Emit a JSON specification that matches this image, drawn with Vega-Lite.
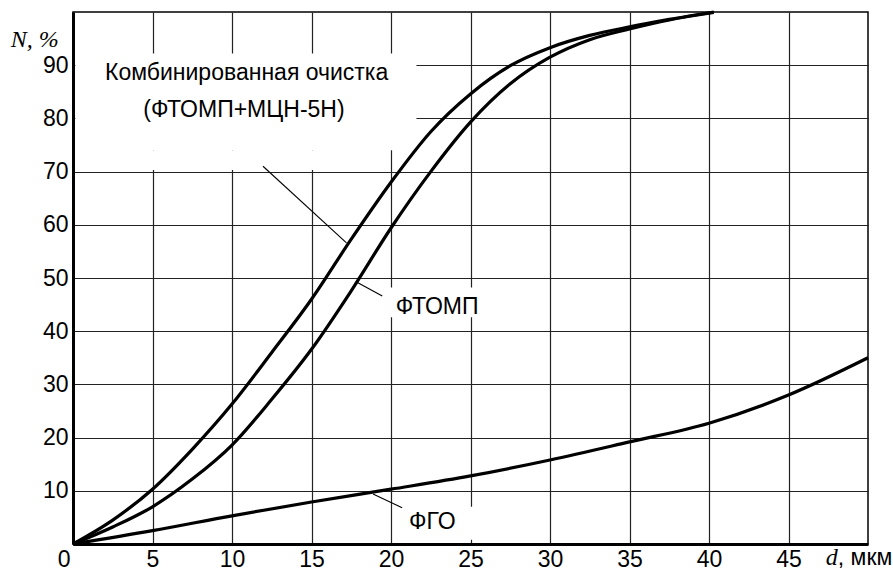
{
  "$schema": "https://vega.github.io/schema/vega-lite/v6.json",
  "width": 795,
  "height": 532,
  "autosize": {"type": "none"},
  "padding": {"left": 73, "top": 12, "right": 25, "bottom": 29},
  "background": "white",
  "config": {
    "view": {"stroke": "black", "strokeWidth": 1.5},
    "font": "Liberation Sans",
    "axis": {
      "grid": true,
      "gridColor": "#222",
      "gridWidth": 1.2,
      "gridOpacity": 1,
      "domainColor": "black",
      "domainWidth": 3,
      "ticks": false,
      "labelFont": "Liberation Sans",
      "labelFontSize": 23,
      "labelColor": "black",
      "title": null
    }
  },
  "datasets": {
    "curves": [
      {"s": "combined", "d": 0, "n": 0},
      {"s": "combined", "d": 2.5, "n": 4.5},
      {"s": "combined", "d": 5, "n": 10.3},
      {"s": "combined", "d": 7.5, "n": 17.8},
      {"s": "combined", "d": 10, "n": 26.3},
      {"s": "combined", "d": 12.5, "n": 36},
      {"s": "combined", "d": 15, "n": 46},
      {"s": "combined", "d": 17.5, "n": 57.3},
      {"s": "combined", "d": 20, "n": 68},
      {"s": "combined", "d": 22.5, "n": 77.5},
      {"s": "combined", "d": 25, "n": 84.6},
      {"s": "combined", "d": 27.5, "n": 89.9},
      {"s": "combined", "d": 30, "n": 93.3},
      {"s": "combined", "d": 32.5, "n": 95.6},
      {"s": "combined", "d": 35, "n": 97.2},
      {"s": "combined", "d": 37.5, "n": 98.6},
      {"s": "combined", "d": 40.3, "n": 100},
      {"s": "ftomp", "d": 0, "n": 0},
      {"s": "ftomp", "d": 2.5, "n": 3.2},
      {"s": "ftomp", "d": 5, "n": 7.0},
      {"s": "ftomp", "d": 7.5, "n": 12.2},
      {"s": "ftomp", "d": 10, "n": 18.6},
      {"s": "ftomp", "d": 12.5, "n": 27.2},
      {"s": "ftomp", "d": 15, "n": 36.6},
      {"s": "ftomp", "d": 17.5, "n": 47.6},
      {"s": "ftomp", "d": 20, "n": 59.4},
      {"s": "ftomp", "d": 22.5, "n": 70},
      {"s": "ftomp", "d": 25, "n": 79.3},
      {"s": "ftomp", "d": 27.5, "n": 86.5},
      {"s": "ftomp", "d": 30, "n": 91.5},
      {"s": "ftomp", "d": 32.5, "n": 94.8},
      {"s": "ftomp", "d": 35, "n": 96.8},
      {"s": "ftomp", "d": 37.5, "n": 98.5},
      {"s": "ftomp", "d": 40.3, "n": 99.9},
      {"s": "fgo", "d": 0, "n": 0},
      {"s": "fgo", "d": 5, "n": 2.5},
      {"s": "fgo", "d": 10, "n": 5.3},
      {"s": "fgo", "d": 15, "n": 7.9},
      {"s": "fgo", "d": 20, "n": 10.3},
      {"s": "fgo", "d": 25, "n": 12.8},
      {"s": "fgo", "d": 30, "n": 15.8},
      {"s": "fgo", "d": 35, "n": 19.2},
      {"s": "fgo", "d": 40, "n": 22.7},
      {"s": "fgo", "d": 45, "n": 28.0},
      {"s": "fgo", "d": 50, "n": 35.0}
    ],
    "boxes": [
      {"x1": 0.15, "x2": 21.6, "y1": 74, "y2": 92.2},
      {"x1": 0.15, "x2": 19.5, "y1": 70.3, "y2": 74},
      {"x1": 19.6, "x2": 26.2, "y1": 42.6, "y2": 48.2},
      {"x1": 20.6, "x2": 25.3, "y1": 0.8, "y2": 7.0}
    ],
    "leaders": [
      {"x1": 11.95, "y1": 71.0, "x2": 17.2, "y2": 56.6},
      {"x1": 17.86, "y1": 49.2, "x2": 19.45, "y2": 46.6},
      {"x1": 18.87, "y1": 9.4, "x2": 20.7, "y2": 6.8}
    ],
    "labels": [
      {"t": "Комбинированная очистка", "x": 10.92, "y": 88.5},
      {"t": "(ФТОМП+МЦН-5Н)", "x": 10.75, "y": 81.6},
      {"t": "ФТОМП", "x": 22.9, "y": 44.6},
      {"t": "ФГО", "x": 22.6, "y": 4.1}
    ],
    "italic": [
      {"t": "N, %", "x": -2.4, "y": 94.7}
    ],
    "unitd": [
      {"t": "d", "x": 48.1, "y": -2.6}
    ],
    "unitrest": [
      {"t": ", мкм", "x": 48.1, "y": -2.6}
    ]
  },
  "layer": [
    {
      "data": {"name": "boxes"},
      "mark": {"type": "rect", "fill": "white", "stroke": null},
      "encoding": {
        "x": {"field": "x1", "type": "quantitative", "scale": {"domain": [0, 50], "nice": false, "zero": false},
          "axis": {"values": [0, 5, 10, 15, 20, 25, 30, 35, 40, 45], "labelPadding": 4, "labelFlush": false,
            "labelAlign": {"condition": {"test": "datum.value === 0", "value": "right"}, "value": "center"},
            "labelOffset": {"condition": {"test": "datum.value === 0", "value": -3}, "value": 0}}},
        "x2": {"field": "x2"},
        "y": {"field": "y1", "type": "quantitative", "scale": {"domain": [0, 100], "nice": false, "zero": false},
          "axis": {"values": [10, 20, 30, 40, 50, 60, 70, 80, 90], "labelPadding": 5}},
        "y2": {"field": "y2"}
      }
    },
    {
      "data": {"name": "curves"},
      "mark": {"type": "line", "interpolate": "monotone", "color": "black", "strokeWidth": 3.2},
      "encoding": {
        "x": {"field": "d", "type": "quantitative"},
        "y": {"field": "n", "type": "quantitative"},
        "detail": {"field": "s"}
      }
    },
    {
      "data": {"name": "leaders"},
      "mark": {"type": "rule", "color": "black", "strokeWidth": 1.1},
      "encoding": {
        "x": {"field": "x1", "type": "quantitative"},
        "y": {"field": "y1", "type": "quantitative"},
        "x2": {"field": "x2"},
        "y2": {"field": "y2"}
      }
    },
    {
      "data": {"name": "labels"},
      "mark": {"type": "text", "font": "Liberation Sans", "fontSize": 23, "color": "black", "baseline": "middle", "align": "center"},
      "encoding": {
        "x": {"field": "x", "type": "quantitative"},
        "y": {"field": "y", "type": "quantitative"},
        "text": {"field": "t"}
      }
    },
    {
      "data": {"name": "italic"},
      "mark": {"type": "text", "font": "Liberation Serif", "fontSize": 24, "fontStyle": "italic", "color": "black", "baseline": "middle", "align": "center"},
      "encoding": {
        "x": {"field": "x", "type": "quantitative"},
        "y": {"field": "y", "type": "quantitative"},
        "text": {"field": "t"}
      }
    },
    {
      "data": {"name": "unitd"},
      "mark": {"type": "text", "font": "Liberation Serif", "fontSize": 24, "fontStyle": "italic", "color": "black", "baseline": "middle", "align": "right"},
      "encoding": {
        "x": {"field": "x", "type": "quantitative"},
        "y": {"field": "y", "type": "quantitative"},
        "text": {"field": "t"}
      }
    },
    {
      "data": {"name": "unitrest"},
      "mark": {"type": "text", "font": "Liberation Sans", "fontSize": 23, "color": "black", "baseline": "middle", "align": "left"},
      "encoding": {
        "x": {"field": "x", "type": "quantitative"},
        "y": {"field": "y", "type": "quantitative"},
        "text": {"field": "t"}
      }
    }
  ]
}
